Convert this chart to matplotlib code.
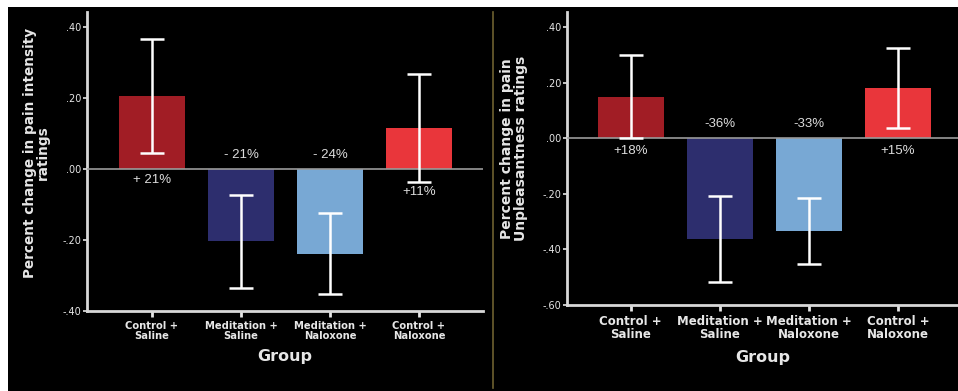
import matplotlib
matplotlib.use("Agg")
import matplotlib.pyplot as plt
import numpy as np
from matplotlib.patches import Rectangle
from matplotlib.lines import Line2D

groups = ["Control +\nSaline", "Meditation +\nSaline", "Meditation +\nNaloxone", "Control +\nNaloxone"]
bar_colors = ["#a11d25", "#2d2e6e", "#78a8d4", "#e9363b"]

# left panel: pain intensity
intensity_mean = [0.206, -0.203, -0.239, 0.114]
intensity_err = [0.160, 0.131, 0.114, 0.152]
intensity_labels = ["+ 21%", "- 21%", "- 24%", "+11%"]

# right panel: pain unpleasantness
unpleasant_mean = [0.149, -0.363, -0.333, 0.181]
unpleasant_err = [0.150, 0.155, 0.118, 0.144]
unpleasant_labels = ["+18%", "-36%", "-33%", "+15%"]

yticks_left = [-0.40, -0.20, 0.0, 0.20, 0.40]
yticks_right = [-0.60, -0.40, -0.20, 0.0, 0.20, 0.40]

FG = "#e6e6e6"


def fmt(v):
    s = f"{v:.2f}"
    return s.replace("0.", ".")


def draw_panel(ax, means, errs, labels, yticks, ylim, xlim, ylabel, tick_fs, label_fs, pct_pos):
    x = np.arange(len(groups))
    ax.set_facecolor("black")
    ax.bar(x, means, width=0.74, color=bar_colors, zorder=2)
    ax.axhline(0, color="#9a9a9a", lw=1.2, zorder=3)
    ax.errorbar(x, means, yerr=errs, fmt="none", ecolor="white", elinewidth=1.8,
                capsize=8.5, capthick=1.8, zorder=4)
    for xi, lab, pos in zip(x, labels, pct_pos):
        ax.text(xi, pos, lab, color="#dddddd", fontsize=9.5, ha="center", va="center", zorder=5,
                family=["Liberation Sans", "DejaVu Sans"])
    ax.set_xlim(*xlim)
    ax.set_ylim(*ylim)
    ax.set_yticks(yticks)
    ax.set_yticklabels([fmt(v) for v in yticks])
    ax.set_xticks(x)
    ax.set_xticklabels(groups, fontweight="bold", fontsize=tick_fs, linespacing=1.05)
    ax.tick_params(axis="x", colors=FG, length=4, width=2, pad=3)
    ax.tick_params(axis="y", colors=FG, length=3, width=1.2, labelsize=7, pad=1)
    for s in ["top", "right"]:
        ax.spines[s].set_visible(False)
    for s in ["left", "bottom"]:
        ax.spines[s].set_color("#d8d8d8")
        ax.spines[s].set_linewidth(2)
    ax.set_xlabel("Group", color=FG, fontweight="bold", fontsize=11.5, labelpad=6)
    ax.set_ylabel(ylabel, color=FG, fontweight="bold", fontsize=label_fs, linespacing=0.95)


fig = plt.figure(figsize=(9.58, 3.91), dpi=100, facecolor="white")
fig.patches.append(Rectangle((8 / 958, 0), 1, 1 - 7 / 391, transform=fig.transFigure,
                             facecolor="black", edgecolor="none", zorder=-10))
fig.lines.append(Line2D([493 / 958, 493 / 958], [3 / 391, 379 / 391], transform=fig.transFigure,
                        color="#6e6130", lw=1.2, zorder=-5))

ax1 = fig.add_axes([87 / 958, 80 / 391, 396 / 958, 299 / 391])
draw_panel(ax1, intensity_mean, intensity_err, intensity_labels, yticks_left,
           (-0.40, 0.442), (-0.73, 3.72),
           "Percent change in pain intensity\nratings", 7.2, 9.8,
           [-0.03, 0.038, 0.038, -0.065])
ax1.yaxis.set_label_coords(-0.093, 0.53)

ax2 = fig.add_axes([567 / 958, 86 / 391, 391 / 958, 293 / 391])
draw_panel(ax2, unpleasant_mean, unpleasant_err, unpleasant_labels, yticks_right,
           (-0.60, 0.454), (-0.716, 3.674),
           "Percent change in pain\nUnpleasantness ratings", 8.5, 10,
           [-0.047, 0.05, 0.05, -0.047])
ax2.yaxis.set_label_coords(-0.10, 0.535)

fig.savefig("out.png", dpi=100, facecolor=fig.get_facecolor())
